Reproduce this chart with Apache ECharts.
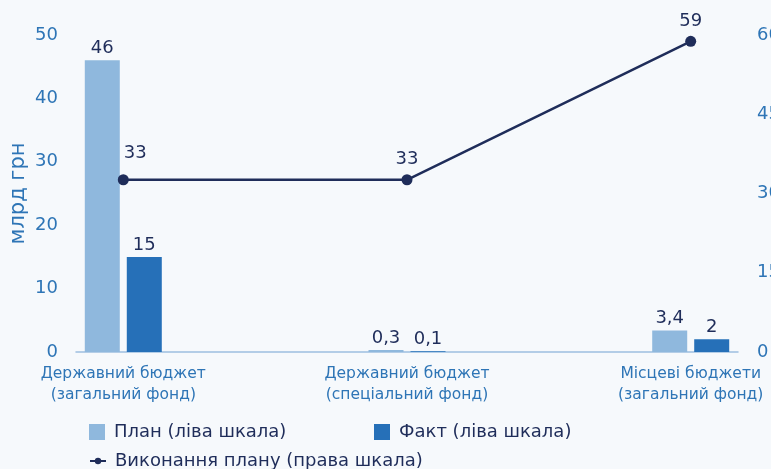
<!DOCTYPE html>
<html>
<head>
<meta charset="utf-8">
<script src="https://cdn.jsdelivr.net/npm/echarts@6/dist/echarts.min.js"></script>
<style>
  html, body { margin: 0; padding: 0; background: #f6f9fc; }
  #chart { width: 771px; height: 469px; }
</style>
</head>
<body>
<div id="chart"></div>
<script>
  // дані з графіка
  const categories = ['Державний бюджет\n(загальний фонд)', 'Державний бюджет\n(спеціальний фонд)', 'Місцеві бюджети\n(загальний фонд)'];
  const plan = [46, 0.3, 3.4];
  const fact = [15, 0.1, 2];
  const execution = [32.6, 32.6, 58.8];
  const leftTicks = { min: 0, max: 50, interval: 10 };
  const rightTicks = { min: 0, max: 60, interval: 15 };

  // категорії стоять через дві порожні позиції
  const gap = 2;
  const slot = (arr, empty) => {
    const out = [];
    arr.forEach((v, i) => {
      out.push(v);
      if (i < arr.length - 1) for (let k = 0; k < gap; k++) out.push(empty);
    });
    return out;
  };

  const font = 'DejaVu Sans';
  const navy = '#1f2d5a';
  const blue = '#2e75b6';
  const fmt = v => String(v).replace('.', ',');

  const lineData = slot(execution, '-').map((v, i) => {
    if (v === '-') return v;
    const item = { value: v };
    if (i === 0) item.label = { offset: [12, -6] };
    return item;
  });

  const chart = echarts.init(document.getElementById('chart'));
  chart.setOption({
    backgroundColor: '#f6f9fc',
    textStyle: { fontFamily: font },
    grid: { left: 76, right: 33, top: 35, bottom: 117, outerBoundsMode: 'none', containLabel: false },
    legend: [
      { data: ['План (ліва шкала)'], left: 84, top: 418, itemWidth: 16, itemHeight: 16, icon: 'rect',
        textStyle: { color: navy, fontSize: 18, fontFamily: font, padding: [0, 0, 0, 4] } },
      { data: ['Факт (ліва шкала)'], left: 369, top: 418, itemWidth: 16, itemHeight: 16, icon: 'rect',
        textStyle: { color: navy, fontSize: 18, fontFamily: font, padding: [0, 0, 0, 4] } },
      { data: ['Виконання плану (права шкала)'], left: 84, top: 447, itemWidth: 16, itemHeight: 8,
        textStyle: { color: navy, fontSize: 18, fontFamily: font, padding: [0, 0, 0, 4] } },
    ],
    xAxis: {
      type: 'category',
      data: slot(categories, ''),
      axisLine: { lineStyle: { color: '#9dbfe0', width: 1.5 } },
      axisTick: { show: false },
      axisLabel: { interval: 0, color: blue, fontSize: 15.5, lineHeight: 21, margin: 11, fontFamily: font },
    },
    yAxis: [
      {
        type: 'value', ...leftTicks,
        name: 'млрд грн', nameLocation: 'middle', nameGap: 47, nameRotate: 90, nameMoveOverlap: false,
        nameTextStyle: { color: blue, fontSize: 21, fontFamily: font },
        splitLine: { show: false },
        axisLabel: { color: blue, fontSize: 18, margin: 18, fontFamily: font },
      },
      {
        type: 'value', ...rightTicks,
        splitLine: { show: false },
        axisLabel: { color: blue, fontSize: 18, margin: 19, fontFamily: font },
      },
    ],
    series: [
      {
        name: 'План (ліва шкала)', type: 'bar', data: slot(plan, '-'),
        barWidth: 35, barGap: '20%',
        itemStyle: { color: '#8fb8dd' },
        label: { show: true, position: 'top', distance: 3, color: navy, fontSize: 18, fontFamily: font, formatter: p => fmt(p.value) },
      },
      {
        name: 'Факт (ліва шкала)', type: 'bar', data: slot(fact, '-'),
        barWidth: 35, barGap: '20%',
        itemStyle: { color: '#2670b8' },
        label: { show: true, position: 'top', distance: 3, color: navy, fontSize: 18, fontFamily: font, formatter: p => fmt(p.value) },
      },
      {
        name: 'Виконання плану (права шкала)', type: 'line', yAxisIndex: 1, data: lineData,
        connectNulls: true, symbol: 'circle', symbolSize: 11,
        lineStyle: { color: navy, width: 2.5 },
        itemStyle: { color: navy },
        label: { show: true, position: 'top', distance: 6, color: navy, fontSize: 18, fontFamily: font, formatter: p => Math.round(p.value) },
      },
    ],
  });
</script>
</body>
</html>
